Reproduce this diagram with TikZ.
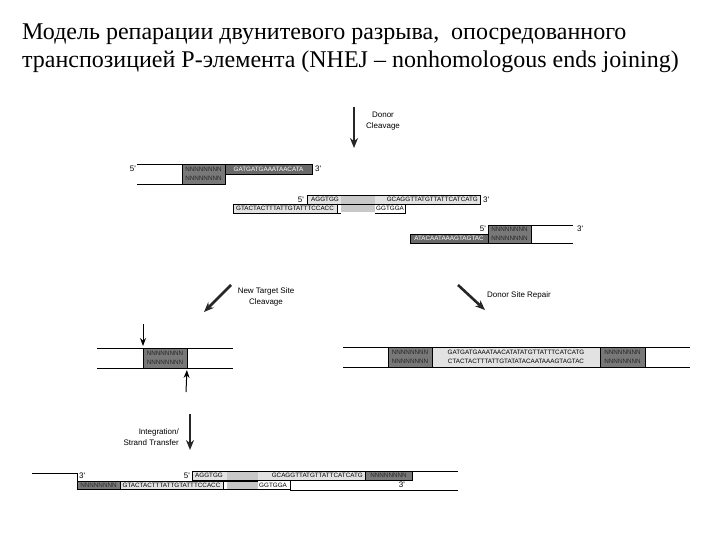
\documentclass[tikz,border=0pt]{standalone}
\usepackage{fontspec}
\setmainfont{Liberation Serif}
\newfontfamily\lblfont{Liberation Sans}
\usetikzlibrary{arrows.meta, positioning}
\definecolor{ndark}{RGB}{120,120,120}
\definecolor{sdark}{RGB}{105,105,105}
\definecolor{tlight}{RGB}{226,226,226}
\definecolor{tmid}{RGB}{200,200,200}
\tikzset{
  strand/.style={line width=0.9pt, black},
  seqbox/.style={rectangle, draw=black, line width=0.6pt, inner sep=0pt,
                 outer sep=0pt, align=center,
                 font=\lblfont\fontsize{6.3}{9}\selectfont},
  nbox/.style={seqbox, fill=ndark, text=black!85},
  sbox/.style={seqbox, fill=sdark, text=white},
  tbox/.style={seqbox, fill=tlight, text=black},
  seqtxt/.style={inner sep=0pt, font=\lblfont\fontsize{6.3}{9}\selectfont},
  endlbl/.style={inner sep=0pt, font=\lblfont\fontsize{8}{9}\selectfont},
  steplbl/.style={inner sep=0pt, align=center,
                  font=\lblfont\fontsize{8}{10.5}\selectfont},
  bigarr/.style={-{Stealth[length=10pt,width=8pt]}, line width=2.6pt,
                 color=black!85},
  cutarr/.style={-{Stealth[length=8pt,width=6pt]}, line width=1pt,
                 shorten >=2pt},
  title/.style={inner sep=0pt, align=left,
                font=\fontsize{24}{28}\selectfont},
}
% box from (x1,y1) to (x2,y2) in pixel units
\newcommand\dnabox[7][nbox]{%
  \node[#1, minimum width={#5-#3}, minimum height={#6-#4}]
    (#2) at ({(#3+#5)/2},{(#4+#6)/2}) {#7};}

\begin{document}
\begin{tikzpicture}[x=1pt, y=-1pt]
  \useasboundingbox[fill=white] (0,0) rectangle (720,540);

  % Title
  \node[title, anchor=north west] (title) at (22,24)
    {Модель репарации двунитевого разрыва,\ \ опосредованного\\
     транспозицией Р-элемента (NHEJ – nonhomologous ends joining)};

  % Donor cleavage
  \coordinate (dc1) at (354,107);
  \coordinate (dc2) at (354,148);
  \draw[bigarr] (dc1) -- (dc2);
  \node[steplbl] (dclbl) at (383,121) {Donor\\Cleavage};

  % Row 1: left donor end
  \dnabox{N1}{182}{164}{225}{184}{NNNNNNNN\\NNNNNNNN}
  \dnabox[sbox]{S1}{225}{164}{312}{174}{GATGATGAAATAACATA}
  \draw[strand] (137,164) -- (N1.north west);
  \draw[strand] (137,184) -- (N1.south west);
  \node[endlbl, anchor=east] (r1five) at (136,169) {5'};
  \node[endlbl, right=3pt of S1] (r1three) {3'};

  % Row 2: excised element
  \dnabox[tbox]{T2a}{307}{195}{480}{204}{}
  \fill[tmid] (341,195.5) rectangle (375,212.5);
  \draw[line width=0.6pt] (T2a.north west) rectangle (T2a.south east);
  \dnabox[tbox]{T2b}{233}{204}{337}{213}{GTACTACTTTATTGTATTTCCACC}
  \draw[line width=0.6pt] (T2b.north east) -- (375,204);
  \draw[line width=0.6pt] (375,213) -- (405,213) -- (405,204);
  \draw[line width=0.6pt] (T2b.south east) -- (341,213);
  \node[seqtxt, anchor=west] (t2l) at (311,199.5) {AGGTGG};
  \node[seqtxt, anchor=east] (t2r) at (478,199.5) {GCAGGTTATGTTATTCATCATG};
  \node[seqtxt, anchor=west] (t2g) at (376,208.5) {GGTGGA};
  \node[endlbl, left=3pt of T2a.west] (r2five) {5'};
  \node[endlbl, right=3pt of T2a.east] (r2three) {3'};

  % Row 3: right donor end
  \dnabox{N3}{488}{225}{531}{243}{NNNNNNNN\\NNNNNNNN}
  \dnabox[sbox]{S3}{410}{234}{488}{243}{ATACAATAAAGTAGTAC}
  \draw[strand] (N3.north east) -- (573,225);
  \draw[strand] (N3.south east) -- (573,243);
  \node[endlbl, anchor=east] (r3five) at (486,229) {5'};
  \node[endlbl, anchor=west] (r3three) at (577,229) {3'};

  % Two pathways
  \coordinate (nt1) at (231,285);
  \coordinate (nt2) at (204,312);
  \draw[bigarr] (nt1) -- (nt2);
  \node[steplbl] (ntlbl) at (266,297) {New Target Site\\Cleavage};
  \coordinate (dr1) at (458,285);
  \coordinate (dr2) at (485,310);
  \draw[bigarr] (dr1) -- (dr2);
  \node[steplbl, anchor=west] (drlbl) at (487,295) {Donor Site Repair};

  % Target site
  \dnabox{NT}{143}{348}{187}{368}{NNNNNNNN\\NNNNNNNN}
  \draw[strand] (97,348) -- (233,348);
  \draw[strand] (97,368) -- (233,368);
  \coordinate (ct1) at (143,324);
  \coordinate (ct2) at (186,392);
  \draw[cutarr] (ct1) -- (NT.north west);
  \draw[cutarr] (ct2) -- (NT.south east);

  % Repaired donor site
  \draw[strand] (343,347) -- (690,347);
  \draw[strand] (343,367) -- (690,367);
  \dnabox{R1}{388}{347}{432}{367}{NNNNNNNN\\NNNNNNNN}
  \dnabox[tbox]{R2}{432}{347}{600}{367}{GATGATGAAATAACATATATGTTATTTCATCATG\\CTACTACTTTATTGTATATACAATAAAGTAGTAC}
  \dnabox{R3}{600}{347}{645}{367}{NNNNNNNN\\NNNNNNNN}

  % Integration
  \coordinate (in1) at (190,414);
  \coordinate (in2) at (190,450);
  \draw[bigarr] (in1) -- (in2);
  \node[steplbl, align=right, anchor=east] (inlbl) at (179,437) {Integration/\\Strand Transfer};

  % Integrated element
  \dnabox{B1}{77}{481}{120}{489}{NNNNNNNN}
  \dnabox[tbox]{B2}{120}{481}{223}{489}{GTACTACTTTATTGTATTTCCACC}
  \dnabox[tbox]{B3}{192}{471}{365}{480}{}
  \fill[tmid] (227,471.5) rectangle (258,488.5);
  \draw[line width=0.6pt] (B3.north west) rectangle (B3.south east);
  \draw[line width=0.6pt] (B2.north east) -- (258,481);
  \draw[line width=0.6pt] (B2.south east) -- (290,489) -- (290,481);
  \dnabox{B4}{365}{471}{412}{480}{NNNNNNNN}
  \node[seqtxt, anchor=west] (b3l) at (195,475.5) {AGGTGG};
  \node[seqtxt, anchor=east] (b3r) at (363,475.5) {GCAGGTTATGTTATTCATCATG};
  \node[seqtxt, anchor=west] (b3g) at (259,485) {GGTGGA};
  \draw[strand] (32,473) -- (77,473) -- (B1.north west);
  \draw[strand] (B4.north east) -- (458,471);
  \draw[strand] (290,490) -- (458,490);
  \node[endlbl, anchor=west] (bthree) at (79,476) {3'};
  \node[endlbl, anchor=east] (bfive) at (190,476) {5'};
  \node[endlbl, anchor=east] (bthreeb) at (405,485) {3'};
\end{tikzpicture}
\end{document}
